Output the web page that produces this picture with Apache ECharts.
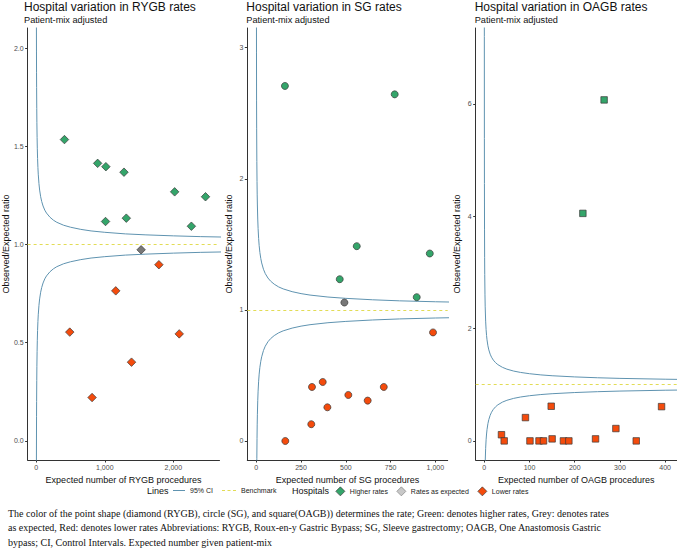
<!DOCTYPE html>
<html><head><meta charset="utf-8">
<script src="https://cdn.jsdelivr.net/npm/echarts@6/dist/echarts.min.js"></script>
<style>html,body{margin:0;padding:0;background:#fff}#c{width:677px;height:550px}</style>
</head><body><div id="c"></div>
<script>
// ---------- data ----------
const rygbHigherX = [412, 896, 1016, 1280, 1011, 1314, 2019, 2263, 2469];
const rygbHigherY = [1.534, 1.413, 1.396, 1.368, 1.117, 1.134, 1.268, 1.093, 1.243];
const rygbExpectedX = [1530];
const rygbExpectedY = [0.973];
const rygbLowerX = [1789, 1160, 489, 2086, 1390, 815];
const rygbLowerY = [0.897, 0.764, 0.554, 0.545, 0.401, 0.221];

const sgHigherX = [160, 773, 561, 969, 466, 896];
const sgHigherY = [2.708, 2.644, 1.486, 1.430, 1.234, 1.097];
const sgExpectedX = [492];
const sgExpectedY = [1.056];
const sgLowerX = [987, 371, 311, 712, 514, 622, 397, 307, 162];
const sgLowerY = [0.828, 0.450, 0.412, 0.412, 0.351, 0.308, 0.257, 0.128, 0.0];

const oagbHigherX = [265, 218];
const oagbHigherY = [6.07, 4.05];
const oagbExpectedX = [];
const oagbExpectedY = [];
const oagbLowerX = [38, 44, 91, 101, 121, 131, 148, 150, 175, 187, 246, 291, 336, 392];
const oagbLowerY = [0.11, 0.0, 0.415, 0.0, 0.0, 0.0, 0.617, 0.036, 0.0, 0.0, 0.036, 0.22, 0.0, 0.61];

// 95% control-interval curves (expected number vs ratio)
const ciE = [0.05, 0.1, 0.2, 0.3, 0.5, 0.75, 1, 1.5, 2, 3, 4, 5, 6, 8, 10, 13, 16, 20, 25, 30, 40, 50, 65, 80, 100, 125, 150, 200, 250, 300, 400, 500, 650, 800, 1000, 1300, 1600, 2000, 2400, 2700];
const ciUpper = [9.77, 7.20, 5.38, 4.58, 3.77, 3.26, 2.96, 2.60, 2.386, 2.132, 1.980, 1.877, 1.800, 1.693, 1.620, 1.544, 1.490, 1.438, 1.392, 1.358, 1.310, 1.277, 1.243, 1.219, 1.196, 1.175, 1.160, 1.139, 1.124, 1.113, 1.098, 1.088, 1.077, 1.069, 1.062, 1.054, 1.049, 1.044, 1.040, 1.038];
const ciLower = [-7.77, -5.20, -3.38, -2.58, -1.77, -1.26, -0.96, -0.60, -0.386, -0.132, 0.020, 0.123, 0.200, 0.307, 0.380, 0.456, 0.510, 0.562, 0.608, 0.642, 0.690, 0.723, 0.757, 0.781, 0.804, 0.825, 0.840, 0.861, 0.876, 0.887, 0.902, 0.912, 0.923, 0.931, 0.938, 0.946, 0.951, 0.956, 0.960, 0.962];
const benchmark = 1;

const panelTitles = ['Hospital variation in RYGB rates', 'Hospital variation in SG rates', 'Hospital variation in OAGB rates'];
const panelSubtitle = 'Patient-mix adjusted';
const xAxisNames = ['Expected number of RYGB procedures', 'Expected number of SG procedures', 'Expected number of OAGB procedures'];
const yAxisName = 'Observed/Expected ratio';
const xTickValues = [[0, 1000, 2000], [0, 250, 500, 750, 1000], [0, 100, 200, 300, 400]];
const yTickValues = [[0, 0.5, 1, 1.5, 2], [0, 1, 2, 3], [0, 2, 4, 6]];
const yTickLabels = [['0.0', '0.5', '1.0', '1.5', '2.0'], ['0', '1', '2', '3'], ['0', '2', '4', '6']];
const lineLegendTitle = 'Lines';
const pointLegendTitle = 'Hospitals';
const lineNames = ['95% CI', 'Benchmark'];
const groupNames = ['Higher rates', 'Rates as expected', 'Lower rates'];
const footnote = [
  'The color of the point shape (diamond (RYGB), circle (SG), and square(OAGB)) determines the rate; Green: denotes higher rates, Grey: denotes rates',
  'as expected, Red: denotes lower rates Abbreviations: RYGB, Roux-en-y Gastric Bypass; SG, Sleeve gastrectomy; OAGB, One Anastomosis Gastric',
  'bypass; CI, Control Intervals. Expected number given patient-mix'
];

// ---------- layout / style ----------
const FONT = 'Liberation Sans, Arial, sans-serif';
const SERIF = 'Liberation Serif, Times New Roman, serif';
const grids = [
  {left: 25, top: 28, width: 194.5, height: 432},
  {left: 247.3, top: 28, width: 200.4, height: 432},
  {left: 475.7, top: 28, width: 201, height: 432}
];
const xRanges = [[-125, 2673], [-50.3, 1069], [-19, 425.5]];
const yRanges = [[-0.097, 2.102], [-0.145, 3.15], [-0.34, 7.35]];
const GREEN = '#34a56a', GREY = '#787878', RED = '#f44b0c', CI = '#5f93b0', BENCH = '#e2dc55';
const shapes = ['diamond', 'circle', 'rect'];
const sizes = [8.5, 7, 6.5];
const groupColors = [GREEN, GREY, RED];
const legendColors = [GREEN, '#c8c8c8', RED];
const legendBorders = ['#3a3a3a', '#808080', '#3a3a3a'];

const pts = (xs, ys) => xs.map((x, i) => [x, ys[i]]);
const groups = [
  [pts(rygbHigherX, rygbHigherY), pts(rygbExpectedX, rygbExpectedY), pts(rygbLowerX, rygbLowerY)],
  [pts(sgHigherX, sgHigherY), pts(sgExpectedX, sgExpectedY), pts(sgLowerX, sgLowerY)],
  [pts(oagbHigherX, oagbHigherY), pts(oagbExpectedX, oagbExpectedY), pts(oagbLowerX, oagbLowerY)]
];
const ciUp = pts(ciE, ciUpper), ciLo = pts(ciE, ciLower);

const title = [], xAxis = [], yAxis = [], series = [];
for (let i = 0; i < 3; i++) {
  title.push({
    text: panelTitles[i], subtext: panelSubtitle,
    left: grids[i].left - 1, top: 1, padding: 0, itemGap: 2,
    textStyle: {fontSize: 12, fontWeight: 'normal', color: '#111', fontFamily: FONT},
    subtextStyle: {fontSize: 9.2, color: '#111', fontFamily: FONT}
  });
  xAxis.push({
    type: 'value', gridIndex: i, min: xRanges[i][0], max: xRanges[i][1],
    name: xAxisNames[i], nameLocation: 'middle', nameGap: 12,
    nameTextStyle: {fontSize: 9, color: '#111', fontFamily: FONT},
    axisLine: {show: true, onZero: false, lineStyle: {color: '#333', width: 1}},
    axisTick: {show: true, length: 2.5, customValues: xTickValues[i], lineStyle: {color: '#333'}},
    axisLabel: {customValues: xTickValues[i], fontSize: 7, color: '#4d4d4d', margin: 4, fontFamily: FONT},
    splitLine: {show: false}
  });
  yAxis.push({
    type: 'value', gridIndex: i, min: yRanges[i][0], max: yRanges[i][1],
    name: yAxisName, nameLocation: 'middle', nameGap: 14, nameRotate: 90,
    nameTextStyle: {fontSize: 9, color: '#111', fontFamily: FONT},
    axisLine: {show: true, onZero: false, lineStyle: {color: '#333', width: 1}},
    axisTick: {show: true, length: 2.5, customValues: yTickValues[i], lineStyle: {color: '#333'}},
    axisLabel: {
      customValues: yTickValues[i], fontSize: 7, color: '#4d4d4d', margin: 4, fontFamily: FONT,
      formatter: (v) => { const k = yTickValues[i].indexOf(v); return k >= 0 ? yTickLabels[i][k] : ''; }
    },
    splitLine: {show: false}
  });
  [ciUp, ciLo].forEach((d) => series.push({
    name: lineNames[0], type: 'line', xAxisIndex: i, yAxisIndex: i, data: d,
    symbol: 'none', smooth: false, clip: true, silent: true, z: 2,
    color: CI, itemStyle: {color: CI}, lineStyle: {color: CI, width: 1}
  }));
  series.push({
    name: lineNames[1], type: 'line', xAxisIndex: i, yAxisIndex: i, data: [],
    symbol: 'none', color: BENCH, itemStyle: {color: BENCH}, lineStyle: {color: BENCH, width: 1, type: [3, 3]}, z: 2,
    markLine: {
      silent: true, symbol: ['none', 'none'], label: {show: false},
      lineStyle: {color: BENCH, width: 1, type: [3, 3]},
      data: [{yAxis: benchmark}]
    }
  });
  for (let g = 0; g < 3; g++) {
    series.push({
      name: groupNames[g], type: 'scatter', xAxisIndex: i, yAxisIndex: i, data: groups[i][g],
      symbol: shapes[i], symbolSize: sizes[i], z: 5,
      itemStyle: {color: groupColors[g], borderColor: '#3a3a3a', borderWidth: 0.7, opacity: 1}
    });
  }
}

const legTxt = {fontSize: 7, color: '#222', fontFamily: FONT};
const legend = [
  {data: [{name: lineNames[0], icon: 'path://M0,0H12V1H0Z', itemStyle: {color: CI}}],
   left: 173, top: 487, padding: 0, selectedMode: false, itemWidth: 12, itemHeight: 8, textStyle: legTxt},
  {data: [{name: lineNames[1], icon: 'path://M0,0H3V1H0Z M5.5,0H8.5V1H5.5Z M11,0H14V1H11Z', itemStyle: {color: BENCH}}],
   left: 222, top: 487, padding: 0, selectedMode: false, itemWidth: 14, itemHeight: 8, textStyle: legTxt}
];
const diamondLefts = [335.5, 396.5, 477.5];
for (let g = 0; g < 3; g++) {
  legend.push({
    data: [{name: groupNames[g], icon: 'diamond', itemStyle: {color: legendColors[g], borderColor: legendBorders[g], borderWidth: 0.7}}],
    left: diamondLefts[g], top: 486.5, padding: 0, selectedMode: false, itemWidth: 9, itemHeight: 9, textStyle: legTxt
  });
}

const option = {
  backgroundColor: '#fff',
  animation: false,
  title,
  grid: grids.map(g => Object.assign({containLabel: false}, g)),
  xAxis, yAxis, series, legend,
  graphic: [
    {type: 'text', x: 147, y: 491, style: {text: lineLegendTitle, font: '9px ' + FONT, fill: '#111', verticalAlign: 'middle'}},
    {type: 'text', x: 292, y: 491, style: {text: pointLegendTitle, font: '9px ' + FONT, fill: '#111', verticalAlign: 'middle'}},
    {type: 'text', x: 8, y: 506, style: {text: footnote.join('\n'), font: '10px ' + SERIF, fill: '#111', lineHeight: 14.5, verticalAlign: 'top'}}
  ]
};
const chart = echarts.init(document.getElementById('c'), null, {renderer: 'svg'});
chart.setOption(option);
</script>
</body></html>
